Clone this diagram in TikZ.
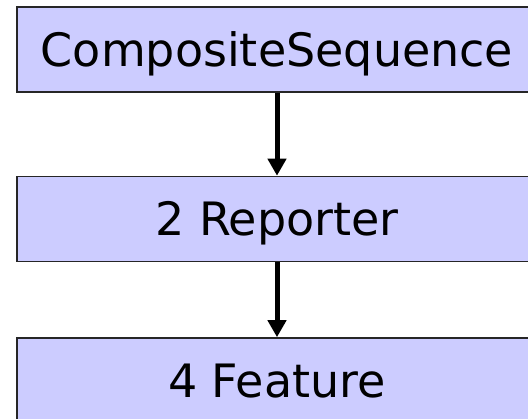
\documentclass[tikz,border=0pt]{standalone}
\usepackage{fontspec}
\setmainfont{DejaVu Sans}
\usetikzlibrary{arrows.meta}
\begin{document}
\begin{tikzpicture}[x=1pt,y=-1pt,
  classbox/.style={draw=black!85, line width=1.6pt, fill=boxfill,
    minimum width=520pt, minimum height=85pt, inner sep=0pt,
    font=\fontsize{46}{50}\selectfont, text height=34pt, text depth=0pt},
  link/.style={line width=5pt, -{Triangle[length=17pt,width=18pt]}}]
\definecolor{boxfill}{HTML}{CCCCFF}
\useasboundingbox (0,0) rectangle (528,419);
\clip (0,0) rectangle (528,419);
\node[classbox] (cs) at (277,49.5) {CompositeSequence};
\node[classbox] (rep) at (277,219) {2 Reporter};
\node[classbox] (feat) at (277,380.5) {4 Feature};
\draw[link] (cs.south) -- (rep.north);
\draw[link] (rep.south) -- (feat.north);
\end{tikzpicture}
\end{document}
